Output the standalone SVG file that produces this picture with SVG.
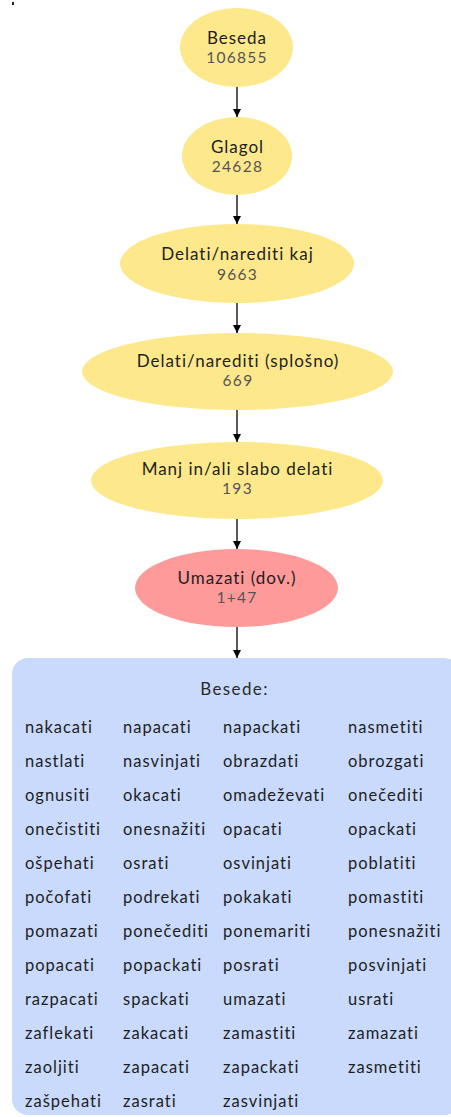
<svg xmlns="http://www.w3.org/2000/svg" width="451" height="1117" viewBox="0 0 451 1117">
  <style>
    .cat { fill: #fde88c; }
    .leaf { fill: #ff9a9a; }
    .label { font-family: Lato, "Liberation Sans", sans-serif; font-size: 17px; letter-spacing: 1px; fill: #1e1e1e; text-anchor: middle; }
    .count { font-family: Lato, "Liberation Sans", sans-serif; font-size: 15.5px; letter-spacing: 1.3px; fill: #555555; text-anchor: middle; }
    .edge { stroke: #000000; stroke-width: 1.3; fill: none; marker-end: url(#arrow); }
    .panel { fill: #c9dafc; }
    .word { font-family: Lato, "Liberation Sans", sans-serif; font-size: 16.5px; letter-spacing: 1px; fill: #1e1e1e; }
    .heading { font-family: Lato, "Liberation Sans", sans-serif; font-size: 17px; letter-spacing: 1.4px; fill: #2a2a2a; text-anchor: middle; }
  </style>
  <defs>
    <marker id="arrow" viewBox="0 0 10 10" refX="10" refY="5" markerWidth="10" markerHeight="8" markerUnits="userSpaceOnUse" orient="auto">
      <path d="M0,0 L10,5 L0,10 z" fill="#000000"/>
    </marker>
  </defs>

  <rect x="12" y="2" width="2" height="3" fill="#222222"/>

  <g id="connectors">
    <line class="edge" x1="237" y1="87" x2="237" y2="117"/>
    <line class="edge" x1="237" y1="195" x2="237" y2="224"/>
    <line class="edge" x1="237" y1="303" x2="237" y2="333"/>
    <line class="edge" x1="237" y1="410" x2="237" y2="442"/>
    <line class="edge" x1="237" y1="519" x2="237" y2="549"/>
    <line class="edge" x1="237" y1="627" x2="237" y2="658"/>
  </g>

  <g id="node-beseda">
    <ellipse class="cat" cx="236.5" cy="47.5" rx="56.5" ry="39.5"/>
    <text class="label" x="237" y="43.5">Beseda</text>
    <text class="count" x="237" y="63">106855</text>
  </g>

  <g id="node-glagol">
    <ellipse class="cat" cx="237" cy="156" rx="55" ry="39"/>
    <text class="label" x="237.5" y="152.5">Glagol</text>
    <text class="count" x="237.5" y="172">24628</text>
  </g>

  <g id="node-delati-kaj">
    <ellipse class="cat" cx="237" cy="263.5" rx="117" ry="39.5"/>
    <text class="label" x="237.5" y="260">Delati/narediti kaj</text>
    <text class="count" x="237.5" y="279.5">9663</text>
  </g>

  <g id="node-delati-splosno">
    <ellipse class="cat" cx="237.5" cy="371.5" rx="155.5" ry="38.5"/>
    <text class="label" x="238" y="366.5">Delati/narediti (splošno)</text>
    <text class="count" x="238" y="386">669</text>
  </g>

  <g id="node-manj">
    <ellipse class="cat" cx="237" cy="480.5" rx="146" ry="38.5"/>
    <text class="label" x="237.5" y="474.5">Manj in/ali slabo delati</text>
    <text class="count" x="237.5" y="494">193</text>
  </g>

  <g id="node-umazati">
    <ellipse class="leaf" cx="236.5" cy="588" rx="101.5" ry="39"/>
    <text class="label" x="237" y="583.5">Umazati (dov.)</text>
    <text class="count" x="237" y="603">1+47</text>
  </g>

  <g id="node-besede">
    <rect class="panel" x="12" y="658" width="448" height="457" rx="16" ry="16"/>
    <text class="heading" x="234.5" y="695">Besede:</text>
    <g class="word">
      <text x="25" y="733">nakacati</text><text x="123" y="733">napacati</text><text x="223" y="733">napackati</text><text x="348" y="733">nasmetiti</text>
      <text x="25" y="767">nastlati</text><text x="123" y="767">nasvinjati</text><text x="223" y="767">obrazdati</text><text x="348" y="767">obrozgati</text>
      <text x="25" y="801">ognusiti</text><text x="123" y="801">okacati</text><text x="223" y="801">omadeževati</text><text x="348" y="801">onečediti</text>
      <text x="25" y="835">onečistiti</text><text x="123" y="835">onesnažiti</text><text x="223" y="835">opacati</text><text x="348" y="835">opackati</text>
      <text x="25" y="869">ošpehati</text><text x="123" y="869">osrati</text><text x="223" y="869">osvinjati</text><text x="348" y="869">poblatiti</text>
      <text x="25" y="903">počofati</text><text x="123" y="903">podrekati</text><text x="223" y="903">pokakati</text><text x="348" y="903">pomastiti</text>
      <text x="25" y="937">pomazati</text><text x="123" y="937">ponečediti</text><text x="223" y="937">ponemariti</text><text x="348" y="937">ponesnažiti</text>
      <text x="25" y="971">popacati</text><text x="123" y="971">popackati</text><text x="223" y="971">posrati</text><text x="348" y="971">posvinjati</text>
      <text x="25" y="1005">razpacati</text><text x="123" y="1005">spackati</text><text x="223" y="1005">umazati</text><text x="348" y="1005">usrati</text>
      <text x="25" y="1039">zaflekati</text><text x="123" y="1039">zakacati</text><text x="223" y="1039">zamastiti</text><text x="348" y="1039">zamazati</text>
      <text x="25" y="1073">zaoljiti</text><text x="123" y="1073">zapacati</text><text x="223" y="1073">zapackati</text><text x="348" y="1073">zasmetiti</text>
      <text x="25" y="1107">zašpehati</text><text x="123" y="1107">zasrati</text><text x="223" y="1107">zasvinjati</text>
    </g>
  </g>
</svg>
